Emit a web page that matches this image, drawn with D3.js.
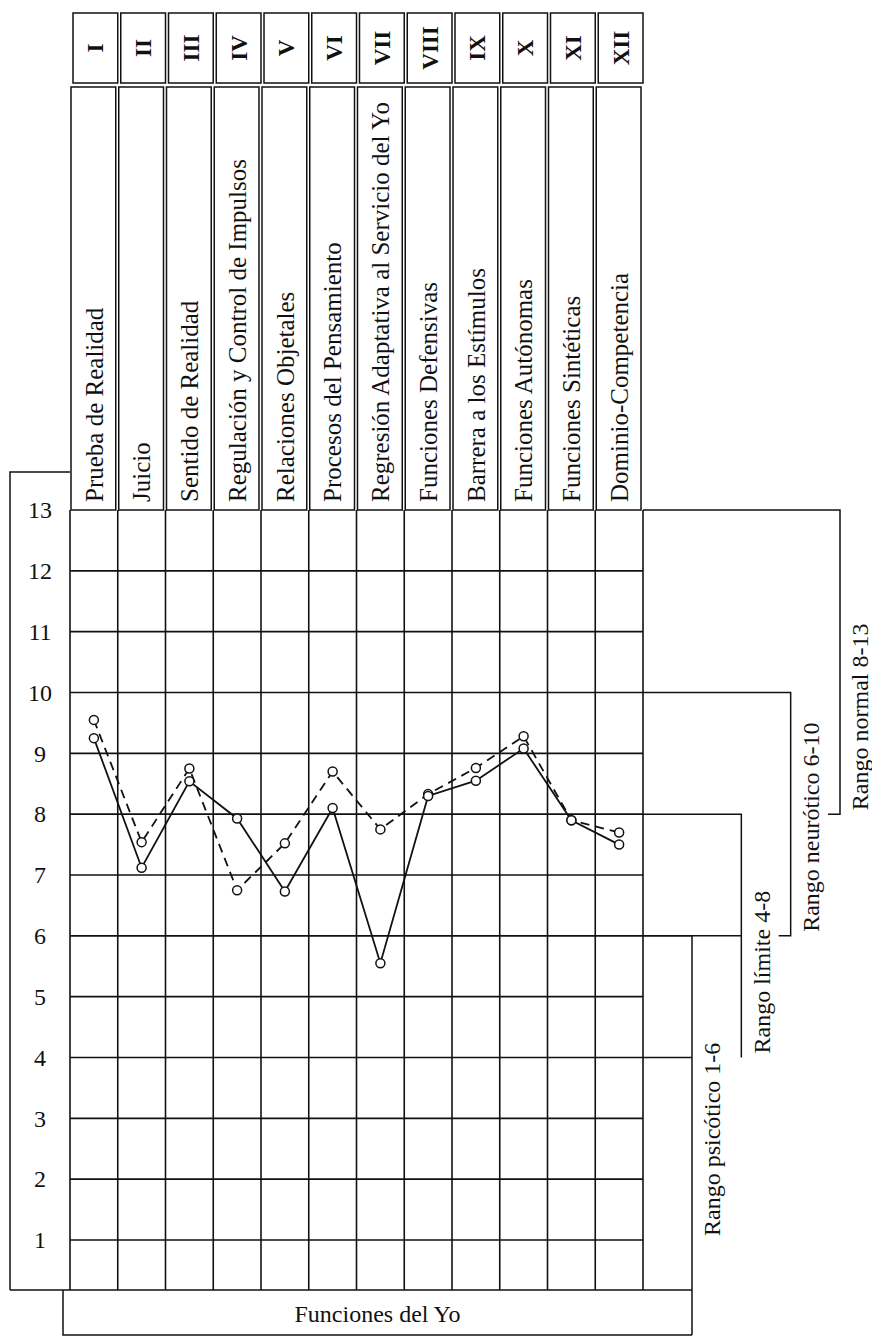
<!DOCTYPE html>
<html>
<head>
<meta charset="utf-8">
<script src="https://cdn.jsdelivr.net/npm/d3@7"></script>
<style>
  body { margin: 0; background: #fff; }
  text { font-family: "Liberation Serif", "Times New Roman", serif; fill: #111; }
</style>
</head>
<body>
<div id="chart"></div>
<script>
// perfil de funciones del yo, 12 columnas y rangos a la derecha

const romans = ['I', 'II', 'III', 'IV', 'V', 'VI', 'VII', 'VIII', 'IX', 'X', 'XI', 'XII']
const functions = ['Prueba de Realidad', 'Juicio', 'Sentido de Realidad', 'Regulación y Control de Impulsos',
    'Relaciones Objetales', 'Procesos del Pensamiento', 'Regresión Adaptativa al Servicio del Yo',
    'Funciones Defensivas', 'Barrera a los Estímulos', 'Funciones Autónomas', 'Funciones Sintéticas',
    'Dominio-Competencia']
const solidScores = [9.25, 7.12, 8.54, 7.93, 6.73, 8.1, 5.55, 8.3, 8.55, 9.08, 7.9, 7.5]
const dashedScores = [9.55, 7.54, 8.75, 6.75, 7.52, 8.7, 7.75, 8.33, 8.76, 9.28, 7.9, 7.7]
const scoreTicks = [1, 2, 3, 4, 5, 6, 7, 8, 9, 10, 11, 12, 13]
const rangeLabels = ['Rango psicótico 1-6', 'Rango límite 4-8', 'Rango neurótico 6-10', 'Rango normal 8-13']
const rangeLow = [1, 4, 6, 8]
const rangeHigh = [6, 8, 10, 13]
const axisTitle = 'Funciones del Yo'

const width = 872
const height = 1337
const gridLeft = 70
const gridRight = 643
const gridBottom = 1290
const boxLeft = 10
const boxTop = 472

const svg = d3.select('#chart')
    .append('svg')
    .attr('width', width)
    .attr('height', height)

svg.append('rect').attr('width', width).attr('height', height).attr('fill', '#fff')

let xScale = d3.scaleBand()
    .domain(romans)
    .range([gridLeft, gridRight])

let yScale = d3.scaleLinear()
    .domain([1, 13])
    .range([1240, 510])

const bw = xScale.bandwidth()
const cx = i => xScale(romans[i]) + bw / 2

let bracketX = d3.scalePoint()
    .domain(rangeLabels)
    .range([692, 840])

const ink = '#111'

// caja izquierda de la escala
svg.append('path')
    .attr('d', `M${gridLeft},${boxTop}H${boxLeft}V${gridBottom}`)
    .attr('fill', 'none')
    .attr('stroke', ink)
    .attr('stroke-width', 1.5)

// encabezados: numeros romanos
svg.append('g')
    .selectAll('rect')
    .data(romans)
    .join('rect')
    .attr('x', d => xScale(d) + 3)
    .attr('y', 13)
    .attr('width', bw - 3)
    .attr('height', 70)
    .attr('fill', 'none')
    .attr('stroke', ink)
    .attr('stroke-width', 1.5)

svg.append('g')
    .selectAll('text')
    .data(romans)
    .join('text')
    .attr('transform', d => `translate(${xScale(d) + 1.5 + bw / 2},48) rotate(-90)`)
    .attr('dy', '0.35em')
    .attr('text-anchor', 'middle')
    .style('font-size', '23px')
    .style('font-weight', 'bold')
    .text(d => d)

// encabezados: nombres de funciones
svg.append('g')
    .selectAll('rect')
    .data(romans)
    .join('rect')
    .attr('x', d => xScale(d) + 1)
    .attr('y', 87)
    .attr('width', bw - 3)
    .attr('height', yScale(13) - 87)
    .attr('fill', 'none')
    .attr('stroke', ink)
    .attr('stroke-width', 1.5)

svg.append('g')
    .selectAll('text')
    .data(functions)
    .join('text')
    .attr('transform', (d, i) => `translate(${cx(i)},${yScale(13) - 8}) rotate(-90)`)
    .attr('dy', '0.35em')
    .attr('text-anchor', 'start')
    .style('font-size', '25px')
    .text(d => d)

// rejilla
const grid = svg.append('g')
    .attr('stroke', ink)
    .attr('stroke-width', 1.6)

grid.selectAll('.vline')
    .data(romans.map(r => xScale(r)).concat([gridRight]))
    .join('line')
    .attr('class', 'vline')
    .attr('x1', d => d)
    .attr('x2', d => d)
    .attr('y1', yScale(13))
    .attr('y2', gridBottom)

grid.selectAll('.hline')
    .data(scoreTicks.filter(t => t < 13))
    .join('line')
    .attr('class', 'hline')
    .attr('x1', gridLeft)
    .attr('x2', gridRight)
    .attr('y1', d => yScale(d))
    .attr('y2', d => yScale(d))

grid.append('line')
    .attr('x1', boxLeft)
    .attr('x2', bracketX(rangeLabels[0]))
    .attr('y1', gridBottom)
    .attr('y2', gridBottom)

// escala 1-13
let yAxis = d3.axisLeft(yScale)
    .tickValues(scoreTicks)
    .tickSize(0)
    .tickPadding(0)
    .tickFormat(d3.format('d'))

let yAxisGroup = svg.append('g')
    .attr('class', 'y-axis')
    .attr('transform', `translate(${(boxLeft + gridLeft) / 2},0)`)
    .call(yAxis)

yAxisGroup.select('.domain').remove()
yAxisGroup.selectAll('text')
    .attr('text-anchor', 'middle')
    .attr('x', 0)
    .style('font-size', '24px')
    .style('font-family', '"Liberation Serif", serif')
    .attr('fill', ink)

// corchetes de rangos
const br = svg.append('g')
    .attr('fill', 'none')
    .attr('stroke', ink)
    .attr('stroke-width', 1.5)

rangeLabels.forEach((lab, i) => {
    const bx = bracketX(lab)
    const yBottom = i === 0 ? height - 2 : yScale(rangeLow[i])
    let d = `M${gridRight},${yScale(rangeHigh[i])}H${bx}V${yBottom}`
    if (i >= 2) d += `H${bx - 12}`
    br.append('path').attr('d', d)
    if (i === 1 || i === 2) {
        br.append('line')
            .attr('x1', gridRight)
            .attr('x2', bracketX(rangeLabels[i - 1]))
            .attr('y1', yScale(rangeLow[i]))
            .attr('y2', yScale(rangeLow[i]))
    }
})

svg.append('g')
    .selectAll('text')
    .data(rangeLabels)
    .join('text')
    .attr('transform', (d, i) => `translate(${bracketX(d) + 20},${yScale(rangeLow[i]) - 4}) rotate(-90)`)
    .attr('dy', '0.35em')
    .attr('text-anchor', 'start')
    .style('font-size', '24px')
    .text(d => d)

// caja inferior
svg.append('path')
    .attr('d', `M63,${gridBottom}V${height - 2}H${bracketX(rangeLabels[0])}`)
    .attr('fill', 'none')
    .attr('stroke', ink)
    .attr('stroke-width', 1.5)

svg.append('text')
    .attr('x', (63 + bracketX(rangeLabels[0])) / 2)
    .attr('y', (gridBottom + height) / 2)
    .attr('dy', '0.35em')
    .attr('text-anchor', 'middle')
    .style('font-size', '24px')
    .text(axisTitle)

// lineas de perfil
const line = d3.line()
    .x((d, i) => cx(i))
    .y(d => yScale(d))

svg.append('path')
    .datum(dashedScores)
    .attr('d', line)
    .attr('fill', 'none')
    .attr('stroke', ink)
    .attr('stroke-width', 1.8)
    .attr('stroke-dasharray', '9,6')

svg.append('path')
    .datum(solidScores)
    .attr('d', line)
    .attr('fill', 'none')
    .attr('stroke', ink)
    .attr('stroke-width', 1.8)

const dots = svg.append('g')
    .attr('fill', '#fff')
    .attr('stroke', ink)
    .attr('stroke-width', 1.5)

dots.selectAll('.dash-dot')
    .data(dashedScores)
    .join('circle')
    .attr('class', 'dash-dot')
    .attr('cx', (d, i) => cx(i))
    .attr('cy', d => yScale(d))
    .attr('r', 4.5)

dots.selectAll('.solid-dot')
    .data(solidScores)
    .join('circle')
    .attr('class', 'solid-dot')
    .attr('cx', (d, i) => cx(i))
    .attr('cy', d => yScale(d))
    .attr('r', 4.5)
</script>
</body>
</html>
